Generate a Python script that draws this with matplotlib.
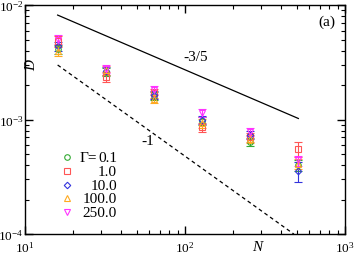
import matplotlib
matplotlib.use("Agg")
import matplotlib.pyplot as plt
import numpy as np

plt.rcParams['font.family'] = ['Liberation Serif', 'DejaVu Serif']
plt.rcParams['mathtext.fontset'] = 'stix'

# chain length and diffusion coefficient for each Gamma
N = [16, 32, 64, 128, 256, 512]
gammas = ["0.1", "1.0", "10.0", "100.0", "250.0"]
D_01 = [4.1e-3, 2.6e-3, 1.60e-3, 0.97e-3, 0.64e-3, 0.40e-3]
D_1 = [4.85e-3, 2.35e-3, 1.70e-3, 0.86e-3, 0.70e-3, 0.55e-3]
D_10 = [4.4e-3, 2.65e-3, 1.64e-3, 0.99e-3, 0.73e-3, 0.356e-3]
D_100 = [4.0e-3, 2.70e-3, 1.52e-3, 0.93e-3, 0.68e-3, 0.41e-3]
D_250 = [5.0e-3, 2.76e-3, 1.82e-3, 1.14e-3, 0.78e-3, 0.44e-3]
# relative errors
E_01 = [0.09, 0.08, 0.08, 0.08, 0.08, 0.11]
E_1 = [0.11, 0.10, 0.09, 0.09, 0.09, 0.15]
E_10 = [0.09, 0.08, 0.08, 0.08, 0.08, 0.20]
E_100 = [0.10, 0.09, 0.09, 0.09, 0.08, 0.10]
E_250 = [0.09, 0.08, 0.08, 0.08, 0.08, 0.10]

series = [D_01, D_1, D_10, D_100, D_250]
errs = [E_01, E_1, E_10, E_100, E_250]
colors = ['#33aa33', '#ff5555', '#3333dd', '#ffaa22', '#ff33ff']
markers = ['o', 's', 'D', '^', 'v']
msizes = [4, 4, 3.3, 4, 4]

# guide lines
N_a = [16, 512]
N_b = [16, 480]
amp_a = 0.0432
amp_b = 0.048

fig = plt.figure(figsize=(3.57, 2.55), dpi=100)
ax = fig.add_axes([0.070, 0.078, 0.896, 0.898])

for D, E, c, m, ms in zip(series, errs, colors, markers, msizes):
    D = np.array(D)
    ax.errorbar(N, D, yerr=D*np.array(E), fmt=m, color=c, mfc='none', mec=c,
                ms=ms, mew=0.8, elinewidth=0.8, capsize=3, capthick=0.8)

ax.plot(N_a, amp_a*np.array(N_a, dtype=float)**(-0.6), color='black', lw=0.9)
ax.plot(N_b, amp_b/np.array(N_b, dtype=float), color='black', lw=0.9, ls=(0, (3, 2.5)))

ax.set_xscale('log')
ax.set_yscale('log')
ax.set_xlim(10, 1000)
ax.set_ylim(1e-4, 1e-2)

ax.tick_params(which='both', direction='in', top=True, right=True, labelsize=9.5)
ax.tick_params(axis='y', pad=1)
ax.tick_params(axis='x', pad=4)
ax.tick_params(which='major', length=6, width=1)
ax.tick_params(which='minor', length=3, width=0.8)
for s in ax.spines.values():
    s.set_linewidth(1)

ax.text(0.02, 0.74, 'D', transform=ax.transAxes, fontsize=11, style='italic',
        rotation=90, ha='center', va='center')
ax.text(0.725, -0.055, 'N', transform=ax.transAxes, fontsize=11, style='italic',
        ha='center', va='center')
ax.text(0.945, 0.93, '(a)', transform=ax.transAxes, fontsize=11, ha='center', va='center')
ax.text(0.535, 0.775, '-3/5', transform=ax.transAxes, fontsize=11, ha='center', va='center')
ax.text(0.385, 0.41, '-1', transform=ax.transAxes, fontsize=11, ha='center', va='center')

# legend
ly = [0.336, 0.275, 0.214, 0.157, 0.096]
for g, c, m, ms, y in zip(gammas, colors, markers, msizes, ly):
    ax.plot([0.131], [y], m, transform=ax.transAxes, color=c, mfc='none', ms=ms, mew=0.8)
    ax.text(0.2875, y, g, transform=ax.transAxes, fontsize=11, ha='right', va='center')
ax.text(0.172, ly[0], '\u0393=', transform=ax.transAxes, fontsize=11, ha='left', va='center')

fig.savefig('out.png', dpi=100)
